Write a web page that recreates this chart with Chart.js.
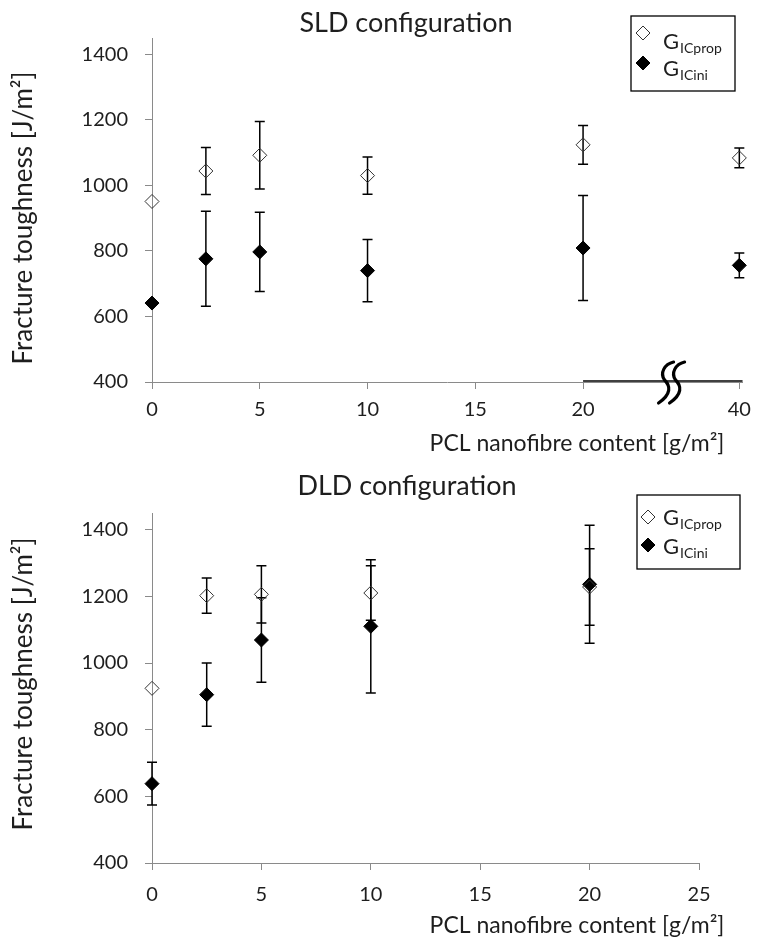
<!DOCTYPE html>
<html>
<head>
<meta charset="utf-8">
<script src="https://cdn.jsdelivr.net/npm/chart.js@4.4.1/dist/chart.umd.min.js"></script>
<style>
  body { margin: 0; background: #fff; }
  .panel { position: absolute; left: 0; width: 760px; }
  #topPanel { top: 0; height: 460px; }
  #botPanel { top: 460px; height: 484px; }
</style>
</head>
<body>
<div class="panel" id="topPanel"><canvas id="sldChart" width="760" height="460"></canvas></div>
<div class="panel" id="botPanel"><canvas id="dldChart" width="760" height="484"></canvas></div>
<script>
// ── data ──────────────────────────────────────────────────
const sldContent = [0, 2.5, 5, 10, 20, 40];
const sldProp    = [951, 1044, 1092, 1030, 1124, 1084];
const sldPropErr = [0, 72, 103, 57, 59, 30];
const sldIni     = [641, 776, 797, 740, 809, 756];
const sldIniErr  = [0, 145, 121, 95, 160, 38];
const sldXTicks  = [0, 5, 10, 15, 20, 40];

const dldContent = [0, 2.5, 5, 10, 20];
const dldProp    = [924, 1202, 1206, 1210, 1228];
const dldPropErr = [0, 53, 86, 82, 115];
const dldIni     = [638, 905, 1069, 1110, 1236];
const dldIniErr  = [64, 95, 127, 200, 177];
const dldXTicks  = [0, 5, 10, 15, 20, 25];

const yTicks    = [400, 600, 800, 1000, 1200, 1400];
const seriesSub = ['ICprop', 'ICini'];
const xTitle = 'PCL nanofibre content [g/m²]';
const yTitle = 'Fracture toughness [J/m²]';

// SLD axis is broken between 20 and 40
const BREAK_AT = 20, BREAK_SQUEEZE = 0.3625;
const brokenAxis = v => v <= BREAK_AT ? v : BREAK_AT + (v - BREAK_AT) * BREAK_SQUEEZE;
const plainAxis = v => v;

const FONT = 'Lato';
const INK = '#1e1e1e';
const AXIS = '#8a8a8a';

// error bars, titles, legend and axis break
const decor = {
  id: 'decor',
  beforeDatasetsDraw(chart) {
    const { ctx, scales: { x, y } } = chart;
    ctx.save();
    ctx.strokeStyle = '#000';
    ctx.lineWidth = 1.5;
    chart.data.datasets.forEach(ds => {
      ds.data.forEach((p, i) => {
        const e = ds.errors[i];
        if (!e) return;
        const px = x.getPixelForValue(p.x);
        const y1 = y.getPixelForValue(p.y + e), y2 = y.getPixelForValue(p.y - e);
        ctx.beginPath();
        ctx.moveTo(px, y1); ctx.lineTo(px, y2);
        ctx.moveTo(px - 5, y1); ctx.lineTo(px + 5, y1);
        ctx.moveTo(px - 5, y2); ctx.lineTo(px + 5, y2);
        ctx.stroke();
      });
    });
    ctx.restore();
  },
  afterDraw(chart, args, o) {
    const { ctx, chartArea: a, scales: { x } } = chart;
    ctx.save();
    ctx.fillStyle = INK;

    // chart title
    ctx.font = `27px ${FONT}`;
    ctx.textAlign = 'center';
    ctx.textBaseline = 'alphabetic';
    ctx.fillText(o.title, o.titleX, o.titleY);

    // x title
    ctx.font = `23px ${FONT}`;
    ctx.fillText(xTitle, o.xTitleX, o.xTitleY);

    // y title
    ctx.save();
    ctx.translate(o.yTitleX, o.yTitleY);
    ctx.rotate(-Math.PI / 2);
    ctx.font = `26px ${FONT}`;
    ctx.fillText(yTitle, 0, 0);
    ctx.restore();

    // legend
    const L = o.legend;
    ctx.strokeStyle = '#000';
    ctx.lineWidth = 1.3;
    ctx.strokeRect(L.x, L.y, L.w, L.h);
    chart.data.datasets.forEach((ds, i) => {
      ctx.fillStyle = ds.pointBackgroundColor;
      ctx.strokeStyle = ds.pointBorderColor;
      ctx.lineWidth = 1;
      Chart.helpers.drawPoint(ctx, { pointStyle: 'rectRot', radius: 7, borderWidth: 1 }, L.x + L.mx, L.y + L.my[i]);
      ctx.fillStyle = INK;
      ctx.textAlign = 'left';
      ctx.font = `22px ${FONT}`;
      const gx = L.x + L.tx, gy = L.y + L.ty[i];
      ctx.fillText('G', gx, gy);
      const gw = ctx.measureText('G').width;
      ctx.font = `14px ${FONT}`;
      ctx.fillText(seriesSub[i], gx + gw + 1, gy + L.subDrop);
    });

    // axis break on the SLD chart
    if (o.axisBreak) {
      const x20 = x.getPixelForValue(brokenAxis(20));
      const x40 = x.getPixelForValue(brokenAxis(40));
      const cy = a.bottom;
      ctx.strokeStyle = '#000';
      ctx.lineWidth = 1.5;
      ctx.beginPath();
      ctx.moveTo(x20, cy - 1); ctx.lineTo(a.right, cy - 1);
      ctx.stroke();
      const cx = x20 + (x40 - x20) * 0.56;
      ctx.lineWidth = 3.2;
      ctx.lineCap = 'round';
      [0, 11].forEach(off => {
        const bx = cx + off;
        ctx.beginPath();
        ctx.moveTo(bx - 12, cy + 21);
        ctx.bezierCurveTo(bx + 1, cy + 12, bx, cy + 4, bx - 6, cy - 2);
        ctx.bezierCurveTo(bx - 11, cy - 9, bx - 6, cy - 18, bx + 3, cy - 20);
        ctx.stroke();
      });
    }
    ctx.restore();
  }
};

function makeChart(id, cfg) {
  const toAxis = cfg.toAxis;
  const pts = ys => cfg.x.map((v, i) => ({ x: toAxis(v), y: ys[i] }));
  const tickFont = { family: FONT, size: 20 };
  const axisGrid = { drawOnChartArea: false, tickLength: 7, color: AXIS };
  return new Chart(document.getElementById(id), {
    type: 'scatter',
    data: {
      datasets: [
        { label: 'G' + seriesSub[0], data: pts(cfg.prop), errors: cfg.propErr,
          pointStyle: 'rectRot', pointRadius: 7, pointBorderWidth: 1,
          pointBorderColor: '#333', pointBackgroundColor: 'rgba(255,255,255,0)', clip: false },
        { label: 'G' + seriesSub[1], data: pts(cfg.ini), errors: cfg.iniErr,
          pointStyle: 'rectRot', pointRadius: 7, pointBorderWidth: 1,
          pointBorderColor: '#000', pointBackgroundColor: '#000', clip: false }
      ]
    },
    options: {
      responsive: false,
      animation: false,
      layout: { padding: { top: cfg.padTop, right: cfg.padRight, left: 0, bottom: 0 } },
      plugins: {
        legend: { display: false },
        tooltip: { enabled: false },
        decor: cfg.decor
      },
      scales: {
        x: {
          type: 'linear', min: 0, max: cfg.xMax,
          afterBuildTicks: s => { s.ticks = cfg.xTicks.map(v => ({ value: toAxis(v) })); },
          afterFit: s => { s.height = cfg.xHeight; },
          ticks: { callback: (v, i) => cfg.xTicks[i], font: tickFont, color: INK, padding: cfg.xPad, maxRotation: 0, autoSkip: false },
          grid: axisGrid,
          border: { color: AXIS, width: 1 }
        },
        y: {
          min: 400, max: 1450,
          afterBuildTicks: s => { s.ticks = yTicks.map(v => ({ value: v })); },
          afterFit: s => { s.width = 152; },
          ticks: { callback: v => String(v), font: tickFont, color: INK, padding: 17 },
          grid: axisGrid,
          border: { color: AXIS, width: 1 }
        }
      }
    },
    plugins: [decor]
  });
}

makeChart('sldChart', {
  x: sldContent, prop: sldProp, propErr: sldPropErr, ini: sldIni, iniErr: sldIniErr,
  toAxis: brokenAxis,
  xTicks: sldXTicks, xMax: 27.4, padTop: 38, padRight: 14, xHeight: 78, xPad: 9,
  decor: {
    title: 'SLD configuration', titleX: 406, titleY: 32,
    xTitleX: 577, xTitleY: 451, yTitleX: 32, yTitleY: 218, axisBreak: true,
    legend: { x: 631, y: 16, w: 104, h: 75, mx: 12, my: [17, 47], tx: 32, ty: [33, 60], subDrop: 4 }
  }
});

makeChart('dldChart', {
  x: dldContent, prop: dldProp, propErr: dldPropErr, ini: dldIni, iniErr: dldIniErr,
  toAxis: plainAxis,
  xTicks: dldXTicks, xMax: 25, padTop: 53, padRight: 61, xHeight: 81, xPad: 13,
  decor: {
    title: 'DLD configuration', titleX: 407, titleY: 35,
    xTitleX: 577, xTitleY: 473, yTitleX: 32, yTitleY: 224, axisBreak: false,
    legend: { x: 637, y: 35, w: 103, h: 74, mx: 11, my: [22, 50], tx: 26, ty: [30, 59], subDrop: 4 }
  }
});
</script>
</body>
</html>
